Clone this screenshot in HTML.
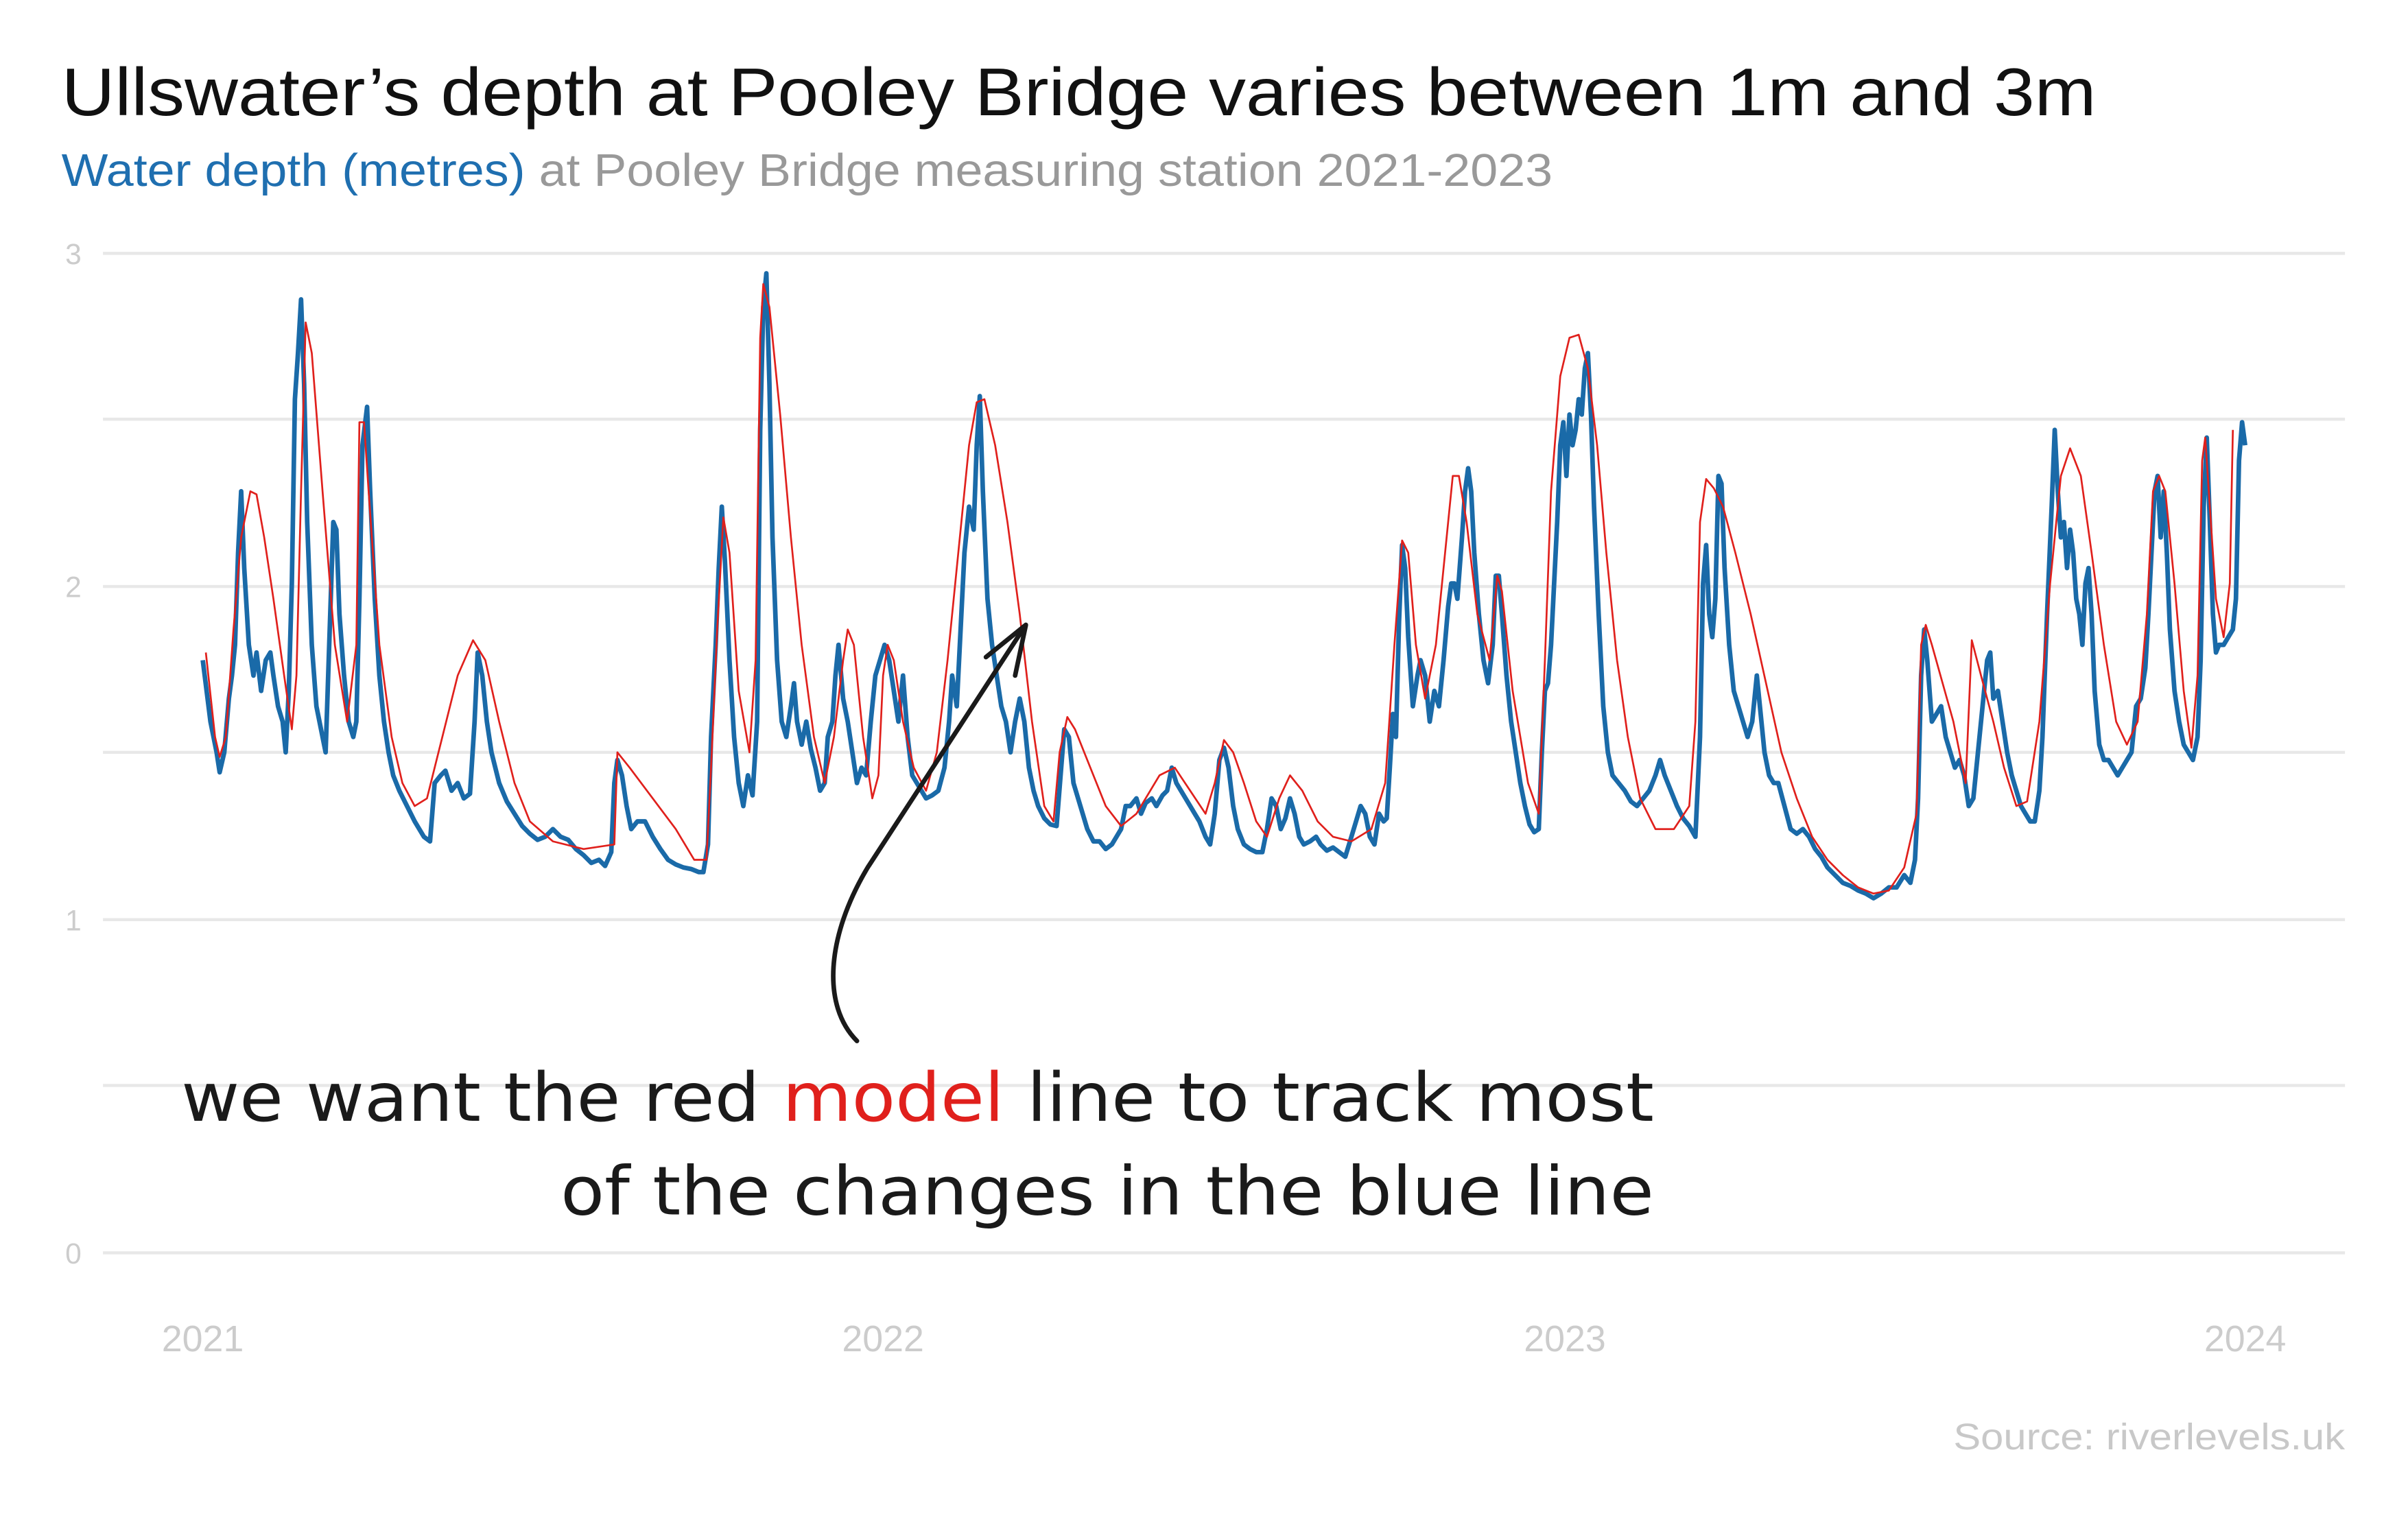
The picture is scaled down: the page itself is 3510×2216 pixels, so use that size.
<!DOCTYPE html>
<html><head><meta charset="utf-8"><style>
html,body{margin:0;padding:0;background:#fff;}
svg{display:block;}
</style></head><body>
<svg width="3510" height="2216" viewBox="0 0 1568 990" xmlns="http://www.w3.org/2000/svg" font-family="Liberation Sans, sans-serif">
<rect width="1568" height="990" fill="#fff"/>
<text x="40" y="75" font-size="44" fill="#111" textLength="1325" lengthAdjust="spacingAndGlyphs">Ullswater’s depth at Pooley Bridge varies between 1m and 3m</text>
<text x="40" y="121" font-size="30" fill="#999" textLength="971" lengthAdjust="spacingAndGlyphs"><tspan fill="#1f6fb0">Water depth (metres)</tspan> at Pooley Bridge measuring station 2021-2023</text>
<g stroke="#e8e8e8" stroke-width="2">
<line x1="67" x2="1527" y1="165" y2="165"/>
<line x1="67" x2="1527" y1="273" y2="273"/>
<line x1="67" x2="1527" y1="382" y2="382"/>
<line x1="67" x2="1527" y1="490" y2="490"/>
<line x1="67" x2="1527" y1="599" y2="599"/>
<line x1="67" x2="1527" y1="707" y2="707"/>
<line x1="67" x2="1527" y1="816" y2="816"/>
</g>
<g font-size="19" fill="#ccc" text-anchor="end">
<text x="53" y="172">3</text><text x="53" y="389">2</text><text x="53" y="606">1</text><text x="53" y="823">0</text>
</g>
<g font-size="24" fill="#ccc" text-anchor="middle">
<text x="132" y="880">2021</text><text x="575" y="880">2022</text><text x="1019" y="880">2023</text><text x="1462" y="880">2024</text>
</g>
<text x="1527" y="944" font-size="24" fill="#c8c8c8" text-anchor="end" textLength="255" lengthAdjust="spacingAndGlyphs">Source: riverlevels.uk</text>
<polyline fill="none" stroke="#1a6aa8" stroke-width="3" stroke-linejoin="round" points="132,430 137,470 141,490 143,503 146,490 149,455 151,440 153,420 155,360 157,320 159,370 162,420 165,440 167,425 170,450 173,430 176,425 178,440 181,460 184,470 186,490 188,450 190,380 192,260 194,230 196,195 198,250 200,340 203,420 206,460 209,475 212,490 214,430 217,340 219,345 221,400 224,440 227,470 230,480 232,470 234,390 236,290 239,265 241,320 244,390 247,440 250,470 253,490 256,505 260,515 265,525 270,535 276,545 280,548 283,510 287,505 290,502 294,515 298,510 302,520 306,517 309,470 311,425 314,440 317,470 320,490 325,510 330,522 335,530 340,538 345,543 350,547 355,545 360,540 365,545 370,547 375,553 380,557 385,562 390,560 394,564 398,555 400,510 402,495 405,505 408,525 411,540 415,535 420,535 425,545 430,553 435,560 440,563 445,565 450,566 455,568 458,568 461,550 463,480 466,420 468,370 470,330 472,365 475,430 478,480 481,510 484,525 487,505 490,518 493,470 495,280 497,200 499,178 501,250 503,350 506,430 509,470 512,480 515,460 517,445 519,470 522,485 525,470 528,488 531,500 534,515 537,510 539,480 542,470 544,440 546,420 549,455 552,470 555,490 558,510 561,500 564,505 567,470 570,440 573,430 576,420 579,430 582,450 585,470 588,440 591,480 594,505 597,510 600,515 603,520 607,518 611,515 615,500 618,470 620,440 623,460 626,400 628,360 631,330 634,345 636,290 638,258 640,320 643,390 646,420 649,440 652,460 655,470 658,490 661,470 664,455 667,470 670,500 673,515 676,525 680,533 684,537 688,538 691,500 693,475 696,480 699,510 702,520 705,530 708,540 712,548 716,548 720,553 724,550 727,545 730,540 733,525 736,525 740,520 743,530 746,523 750,520 753,525 757,518 760,515 763,500 766,510 769,515 772,520 775,525 778,530 781,535 785,545 788,550 791,530 794,495 797,487 800,500 803,525 806,540 810,550 814,553 818,555 822,555 825,540 828,520 831,525 834,540 837,533 840,520 843,530 846,545 849,550 853,548 857,545 860,550 864,554 868,552 872,555 876,558 880,545 883,535 886,525 889,530 892,545 895,550 898,530 901,535 903,533 905,500 907,465 909,480 911,405 913,355 915,370 917,415 920,460 923,440 925,430 928,440 931,470 934,450 937,460 940,430 943,395 945,380 947,380 949,390 952,350 954,320 956,305 958,320 960,360 963,400 966,430 969,445 972,420 974,375 976,375 978,400 981,440 984,470 987,490 990,510 993,525 996,537 999,542 1002,540 1004,490 1006,450 1008,445 1010,420 1012,380 1014,340 1016,290 1018,275 1020,310 1022,270 1024,290 1026,280 1028,260 1030,270 1032,240 1034,230 1036,270 1038,330 1041,400 1044,460 1047,490 1050,505 1054,510 1058,515 1062,522 1066,525 1070,520 1074,515 1078,505 1081,495 1084,505 1088,515 1092,525 1096,533 1100,538 1104,545 1107,480 1109,380 1111,355 1113,400 1115,415 1117,390 1119,310 1121,315 1123,370 1126,420 1129,450 1132,460 1135,470 1138,480 1141,470 1144,440 1146,460 1149,490 1152,505 1155,510 1158,510 1162,525 1166,540 1170,543 1174,540 1178,545 1182,553 1186,558 1190,565 1195,570 1200,575 1205,577 1210,580 1215,582 1220,585 1225,582 1230,578 1235,578 1240,570 1244,575 1247,560 1249,520 1251,440 1253,410 1255,430 1258,470 1261,465 1264,460 1267,480 1270,490 1273,500 1276,495 1279,505 1282,525 1285,520 1288,490 1291,460 1294,430 1296,425 1298,455 1301,450 1304,470 1307,490 1310,505 1313,515 1316,525 1319,530 1322,535 1325,535 1328,515 1330,480 1333,400 1336,330 1338,280 1340,320 1342,350 1344,340 1346,370 1348,345 1350,360 1352,390 1354,400 1356,420 1358,380 1360,370 1362,400 1364,450 1367,485 1370,495 1373,495 1376,500 1379,505 1382,500 1385,495 1388,490 1391,460 1394,455 1397,435 1399,400 1401,360 1403,320 1405,310 1407,350 1409,320 1411,360 1413,410 1416,450 1419,470 1422,485 1425,490 1428,495 1431,480 1433,430 1435,330 1437,285 1439,340 1441,400 1443,425 1445,420 1448,420 1451,415 1454,410 1456,390 1458,300 1460,275 1462,290"/>
<polyline fill="none" stroke="#e0201c" stroke-width="1.2" stroke-linejoin="round" points="134,425 140,480 143,493 147,480 152,410 157,350 163,320 167,322 172,350 178,390 185,440 190,475 193,440 196,320 199,210 203,230 210,320 218,420 226,470 232,420 234,275 237,275 240,320 247,420 255,480 262,510 270,525 278,520 288,480 298,440 308,417 316,430 325,470 335,510 345,535 360,548 380,553 400,550 402,490 410,500 425,520 440,540 452,560 460,560 463,500 467,410 471,337 475,360 481,450 488,490 492,430 495,220 497,185 501,200 508,270 515,350 522,420 530,480 537,510 543,480 549,430 552,410 556,420 562,480 568,520 572,505 575,440 578,420 582,430 588,470 595,500 603,515 610,490 617,430 624,360 631,290 636,262 641,260 648,290 656,340 664,400 672,470 680,525 686,535 690,490 695,467 700,475 710,500 720,525 730,538 740,530 755,505 765,500 775,515 785,530 791,510 797,482 803,490 810,510 818,535 825,545 833,520 840,505 848,515 858,535 868,545 880,548 893,540 902,510 908,420 913,352 917,360 922,420 928,455 935,420 942,350 946,310 950,310 955,340 962,400 970,430 975,375 978,385 985,450 995,510 1002,530 1006,430 1010,320 1016,245 1022,220 1028,218 1034,240 1040,290 1046,360 1053,430 1060,480 1068,520 1078,540 1090,540 1100,525 1104,470 1107,340 1111,312 1116,318 1122,330 1130,360 1140,400 1150,445 1160,490 1170,520 1180,545 1190,560 1200,570 1210,578 1220,582 1230,580 1240,565 1248,530 1251,420 1254,407 1258,420 1265,445 1272,470 1280,510 1284,417 1290,440 1298,470 1305,500 1313,525 1320,522 1328,470 1335,380 1342,310 1348,292 1355,310 1362,360 1370,420 1378,470 1385,485 1392,470 1398,400 1402,320 1406,310 1410,320 1416,380 1422,450 1427,487 1431,440 1434,300 1436,285 1439,330 1443,390 1448,415 1452,380 1454,280"/>
<path d="M558,678 C535,655 538,610 565,565 L666,410" fill="none" stroke="#1a1a1a" stroke-width="3" stroke-linecap="round"/>
<path d="M642,428 L668,407 L661,440" fill="none" stroke="#1a1a1a" stroke-width="3" stroke-linecap="round" stroke-linejoin="round"/>
<g font-size="44" fill="#1a1a1a" font-family="DejaVu Sans, sans-serif">
<text x="118" y="730" textLength="959" lengthAdjust="spacingAndGlyphs">we want the red <tspan fill="#e0201c">model</tspan> line to track most</text>
<text x="365" y="791" textLength="712" lengthAdjust="spacingAndGlyphs">of the changes in the blue line</text>
</g>
</svg>
</body></html>
